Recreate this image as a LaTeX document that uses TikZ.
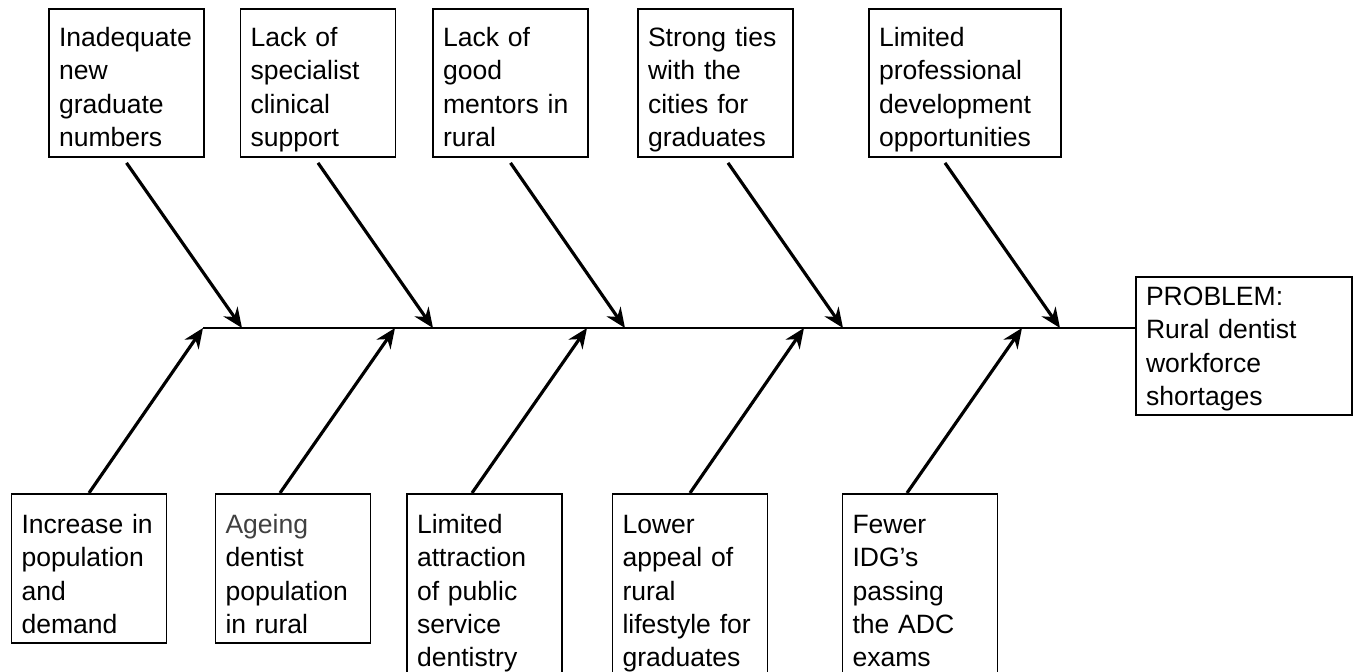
\documentclass[tikz,border=0pt]{standalone}
\usepackage{fontspec}
\setmainfont{Liberation Sans}
\usetikzlibrary{arrows.meta}

\begin{document}
\begin{tikzpicture}[x=0.02cm, y=0.02cm, font=\fontsize{15.1}{18.8}\selectfont, every node/.style={align=left}]
\tikzset{
  cause/.style={draw, line width=1.1pt, inner sep=0.2cm, text width=2.7cm, text height=0.56cm, text depth=2.0cm},
  widecause/.style={cause, text width=3.44cm},
  lowcause/.style={cause, text height=0.6cm, text depth=1.98cm},
  tallcause/.style={cause, text height=0.6cm, text depth=2.9cm},
  problem/.style={draw, line width=1.1pt, inner sep=0.2cm, text width=3.92cm, text height=0.38cm, text depth=1.98cm},
  arr/.style={-{Stealth[length=0.4cm, width=0.34cm]}, line width=1.8pt},
  spine/.style={line width=1.5pt}
}
  \useasboundingbox (0,0) rectangle (1355,672);

  % causes above the spine
  \node[cause, anchor=north] (numbers) at (126.5,664) {Inadequate\\new\\graduate\\numbers};
  \node[cause, anchor=north] (specialist) at (318,664) {Lack of\\specialist\\clinical\\support};
  \node[cause, anchor=north] (mentors) at (510.5,664) {Lack of\\good\\mentors in\\rural};
  \node[cause, anchor=north] (ties) at (715.5,664) {Strong ties\\with the\\cities for\\graduates};
  \node[widecause, anchor=north] (development) at (965,664) {Limited\\professional\\development\\opportunities};

  % causes below the spine
  \node[lowcause, anchor=north] (demand) at (89,179) {Increase in\\population\\and\\demand};
  \node[lowcause, anchor=north] (ageing) at (293,179) {\textcolor{black!75}{Ageing}\\dentist\\population\\in rural};
  \node[tallcause, anchor=north] (public) at (484.5,179) {Limited\\attraction\\of public\\service\\dentistry};
  \node[tallcause, anchor=north] (lifestyle) at (690,179) {Lower\\appeal of\\rural\\lifestyle for\\graduates};
  \node[tallcause, anchor=north] (idg) at (920,179) {Fewer\\IDG’s\\passing\\the ADC\\exams};

  % effect
  \node[problem, anchor=north] (prob) at (1244,396) {PROBLEM:\\Rural dentist\\workforce\\shortages};

  % spine
  \coordinate (tail) at (203,344);
  \draw[spine] (tail) -- (tail -| prob.west);

  \coordinate (t1) at (242,344);
  \coordinate (t2) at (433,344);
  \coordinate (t3) at (625,344);
  \coordinate (t4) at (843,344);
  \coordinate (t5) at (1060,344);
  \coordinate (u2) at (395,344);
  \coordinate (u3) at (587,344);
  \coordinate (u4) at (804,344);
  \coordinate (u5) at (1022,344);

  \draw[arr] ([shift={(0,-5)}]numbers.south) -- (t1);
  \draw[arr] ([shift={(0,-5)}]specialist.south) -- (t2);
  \draw[arr] ([shift={(0,-5)}]mentors.south) -- (t3);
  \draw[arr] ([shift={(12.5,-5)}]ties.south) -- (t4);
  \draw[arr] ([shift={(-20,-5)}]development.south) -- (t5);

  \draw[arr] (demand.north) -- (tail);
  \draw[arr] ([shift={(-13,0)}]ageing.north) -- (u2);
  \draw[arr] ([shift={(-12.5,0)}]public.north) -- (u3);
  \draw[arr] (lifestyle.north) -- (u4);
  \draw[arr] ([shift={(-13,0)}]idg.north) -- (u5);
\end{tikzpicture}
\end{document}
